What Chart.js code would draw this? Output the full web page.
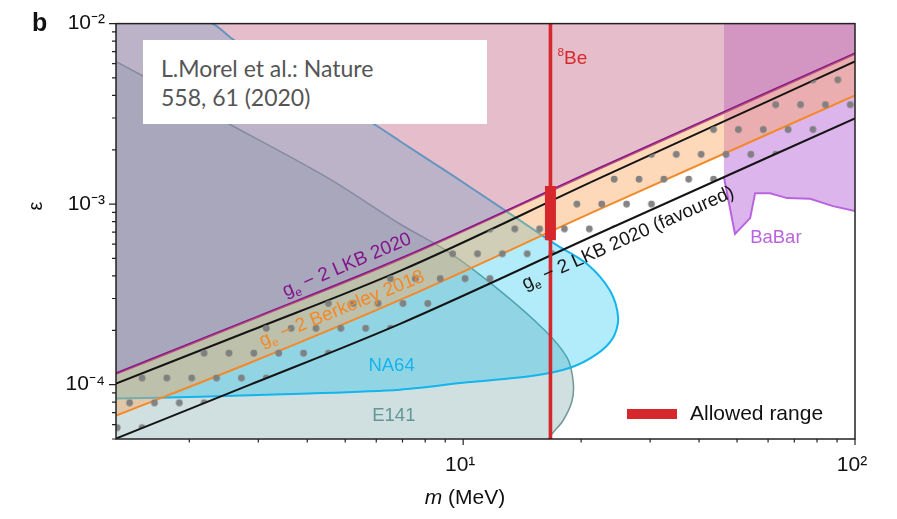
<!DOCTYPE html>
<html>
<head>
<meta charset="utf-8">
<script src="https://cdn.jsdelivr.net/npm/chart.js@4.4.1/dist/chart.umd.min.js"></script>
<style>
  html, body { margin: 0; padding: 0; background: #fff; overflow: hidden; }
  #wrap { position: relative; width: 897px; height: 519px; }
  #note {
    position: absolute; left: 143px; top: 40px; width: 344px; height: 84px;
    background: #fff; box-sizing: border-box; padding: 14px 0 0 18px;
    font-family: Lato, "Open Sans", sans-serif; font-size: 23px; line-height: 29px; color: #555;
  }
</style>
</head>
<body>
<div id="wrap">
  <canvas id="c" width="897" height="519"></canvas>
  <div id="note">L.Morel et al.: Nature<br>558, 61 (2020)</div>
</div>
<script>
// ---- axis ranges and ticks ----
const massRange = [1.3, 100];          // m (MeV)
const epsRange = [5e-5, 1e-2];         // kinetic mixing ε
const massTicks = [2, 3, 4, 5, 6, 7, 8, 9, 10, 20, 30, 40, 50, 60, 70, 80, 90, 100];
const epsTicks = [5e-5, 6e-5, 7e-5, 8e-5, 9e-5,
  1e-4, 2e-4, 3e-4, 4e-4, 5e-4, 6e-4, 7e-4, 8e-4, 9e-4,
  1e-3, 2e-3, 3e-3, 4e-3, 5e-3, 6e-3, 7e-3, 8e-3, 9e-3, 1e-2];
const massTickLabels = { 10: '10¹', 100: '10²' };
const epsTickLabels = { '0.01': '10⁻²', '0.001': '10⁻³', '0.0001': '10⁻⁴' };

// ---- g_e − 2 bounds ----
const g2Mass = [1.3, 2.86, 6.9, 22.3, 100];
const lkb2020Limit = [1.151e-4, 2.286e-4, 4.966e-4, 1.581e-3, 6.82e-3];
const lkb2020FavHigh = [1.013e-4, 1.988e-4, 4.266e-4, 1.392e-3, 6.166e-3];
const lkb2020FavLow = [5.03e-5, 1.0e-4, 2.173e-4, 6.917e-4, 2.987e-3];
const berkeley2018 = [6.74e-5, 1.323e-4, 2.948e-4, 9.385e-4, 4.0e-3];

// ---- beam-dump / collider exclusions (closed contours) ----
const na64Mass = [1.0, 2.29, 2.59, 3.84, 6.04, 6.90, 9.27, 12.43, 17.17, 20.72, 23.71, 24.86,
  24.13, 21.97, 18.75, 15.09, 10.24, 6.90, 3.84, 2.13, 1.30, 1.0];
const na64Eps = [2e-2, 1.0e-2, 8.16e-3, 4.88e-3, 2.70e-3, 2.23e-3, 1.47e-3, 9.63e-4, 6.01e-4, 4.66e-4, 3.31e-4, 2.34e-4,
  1.82e-4, 1.48e-4, 1.24e-4, 1.12e-4, 1.03e-4, 9.38e-5, 8.91e-5, 8.58e-5, 8.37e-5, 8.3e-5];

const e141Mass = [1.0, 1.30, 1.53, 2.59, 3.41, 4.66, 6.90, 9.27, 12.43, 16.19, 18.42, 19.08, 18.97, 17.99, 16.47, 16.0, 1.0];
const e141Eps = [8e-3, 6.16e-3, 5.09e-3, 2.70e-3, 1.96e-3, 1.34e-3, 7.76e-4, 5.36e-4, 3.31e-4, 1.99e-4, 1.41e-4, 1.05e-4,
  8.17e-5, 6.33e-5, 4.91e-5, 3e-5, 3e-5];

const babarMass = [46.3, 49.4, 54.0, 55.6, 60.7, 67.1, 76.8, 87.9, 100];
const babarEps = [1.41e-3, 6.83e-4, 8.37e-4, 1.15e-3, 1.15e-3, 1.08e-3, 1.07e-3, 9.75e-4, 9.15e-4];

// ---- 8Be anomaly (X17) ----
const x17Mass = 16.7;
const x17Allowed = [6.3e-4, 1.26e-3];

// ---- styling ----
const FONT = '"Liberation Sans", Arial, Helvetica, sans-serif';
const C = {
  red: 'rgb(214,40,44)',
  black: '#151515',
  orange: 'rgb(243,137,40)',
  purple: 'rgb(132,20,140)',
  babar: 'rgb(185,100,222)',
  na64: 'rgb(20,180,236)',
  e141: 'rgb(112,152,152)'
};

const pts = (xs, ys) => xs.map((m, i) => ({ x: m, y: ys[i] }));

// dotted texture for the favoured band
function dotPattern(ctx) {
  const tile = document.createElement('canvas');
  tile.width = 25; tile.height = 50;
  const t = tile.getContext('2d');
  t.fillStyle = 'rgba(125,125,125,0.95)';
  [[6.25, 6.25], [18.75, 31.25]].forEach(([px, py]) => {
    t.beginPath(); t.arc(px, py, 3.4, 0, Math.PI * 2); t.fill();
  });
  const p = ctx.createPattern(tile, 'repeat');
  const s = 24.85 / 25;
  p.setTransform(new DOMMatrix([s, 0, 0, s, 142 - s * 6.25, 378 - s * 6.25]));
  return p;
}

// rich text: parts may be subscript, superscript or italic
function drawParts(ctx, parts, x, y, size, color, angle, align, bold) {
  ctx.save();
  ctx.translate(x, y);
  ctx.rotate(-angle * Math.PI / 180);
  ctx.fillStyle = color;
  ctx.textBaseline = 'alphabetic';
  ctx.textAlign = 'left';
  const fontOf = p => {
    const s = (p.sub || p.sup) ? size * 0.62 : size;
    return `${p.italic ? 'italic ' : ''}${bold ? 'bold ' : ''}${s}px ${FONT}`;
  };
  let total = 0;
  parts.forEach(p => { ctx.font = fontOf(p); total += ctx.measureText(p.t).width; });
  let cx = align === 'center' ? -total / 2 : 0;
  parts.forEach(p => {
    ctx.font = fontOf(p);
    const dy = p.sub ? size * 0.24 : p.sup ? -size * 0.42 : 0;
    ctx.fillText(p.t, cx, dy);
    cx += ctx.measureText(p.t).width;
  });
  ctx.restore();
}

const ge = [{ t: 'g' }, { t: 'e', sub: true }];
const curveLabels = [
  { parts: [...ge, { t: ' − 2 LKB 2020' }], m: 3.52, eps: 3.06e-4, angle: 23, color: C.purple, size: 19 },
  { parts: [...ge, { t: ' − 2 Berkeley 2018' }], m: 3.07, eps: 1.62e-4, angle: 22, color: C.orange, size: 19 },
  { parts: [...ge, { t: ' − 2 LKB 2020 (favoured)' }], m: 14.4, eps: 3.35e-4, angle: 24, color: C.black, size: 19 },
  { parts: [{ t: 'NA64' }], m: 5.73, eps: 1.19e-4, angle: 0, color: C.na64, size: 18.5 },
  { parts: [{ t: 'E141' }], m: 5.86, eps: 6.32e-5, angle: 0, color: 'rgb(100,150,150)', size: 18.5 },
  { parts: [{ t: 'BaBar' }], m: 54.0, eps: 6.09e-4, angle: 0, color: C.babar, size: 18.5 },
  { parts: [{ t: '8', sup: true }, { t: 'Be' }], m: 17.4, eps: 6.0e-3, angle: 0, color: C.red, size: 19 }
];

const isDecade = v => Math.abs(Math.log10(v) - Math.round(Math.log10(v))) < 1e-6;

const decorations = {
  id: 'decorations',
  afterDatasetsDraw(chart) {
    const { ctx, chartArea: a, scales: { x, y } } = chart;
    ctx.save();
    // plot frame
    ctx.strokeStyle = '#222';
    ctx.lineWidth = 1.5;
    ctx.strokeRect(a.left, a.top, a.right - a.left, a.bottom - a.top);
    // tick marks
    ctx.lineWidth = 1.2;
    ctx.beginPath();
    y.ticks.forEach(t => {
      const py = y.getPixelForValue(t.value);
      const len = isDecade(t.value) ? 7 : 4;
      ctx.moveTo(a.left - len, py); ctx.lineTo(a.left, py);
    });
    x.ticks.forEach(t => {
      const px = x.getPixelForValue(t.value);
      const len = isDecade(t.value) ? 6 : 3.5;
      ctx.moveTo(px, a.bottom); ctx.lineTo(px, a.bottom + len);
    });
    ctx.stroke();
    ctx.restore();

    // curve and region labels
    curveLabels.forEach(l => {
      drawParts(ctx, l.parts, x.getPixelForValue(l.m), y.getPixelForValue(l.eps), l.size, l.color, l.angle, 'left');
    });

    // legend entry
    ctx.save();
    ctx.fillStyle = C.red;
    ctx.fillRect(a.right - 228, a.bottom - 30, 50, 10);
    ctx.restore();
    drawParts(ctx, [{ t: 'Allowed range' }], a.right - 165, a.bottom - 19, 21, '#111', 0, 'left');

    // axis titles and panel letter
    drawParts(ctx, [{ t: 'm', italic: true }, { t: ' (MeV)' }], a.left + 349, 504, 21, '#111', 0, 'center');
    drawParts(ctx, [{ t: 'ε' }], 42, 206, 20, '#111', 90, 'center');
    drawParts(ctx, [{ t: 'b' }], 32, 31, 25, '#111', 0, 'left', true);
  }
};

const canvas = document.getElementById('c');
const ctx = canvas.getContext('2d');

new Chart(ctx, {
  type: 'line',
  data: {
    datasets: [
      { label: 'Allowed range', data: pts([x17Mass, x17Mass], x17Allowed),
        borderColor: C.red, borderWidth: 11, borderCapStyle: 'butt', fill: false },
      { label: '8Be', data: pts([x17Mass, x17Mass], epsRange),
        borderColor: C.red, borderWidth: 3.6, borderCapStyle: 'butt', fill: false },
      { label: 'LKB 2020 favoured (lower)', data: pts(g2Mass, lkb2020FavLow),
        borderColor: C.black, borderWidth: 2, fill: 3, backgroundColor: dotPattern(ctx),
        cubicInterpolationMode: 'monotone' },
      { label: 'LKB 2020 favoured (upper)', data: pts(g2Mass, lkb2020FavHigh),
        borderColor: C.black, borderWidth: 2, fill: false, cubicInterpolationMode: 'monotone' },
      { label: 'Berkeley 2018', data: pts(g2Mass, berkeley2018),
        borderColor: C.orange, borderWidth: 2, fill: 5, backgroundColor: 'rgba(250,165,90,0.42)',
        cubicInterpolationMode: 'monotone' },
      { label: 'LKB 2020', data: pts(g2Mass, lkb2020Limit),
        borderColor: C.purple, borderWidth: 2.6, fill: 'end', backgroundColor: 'rgba(200,110,140,0.45)',
        cubicInterpolationMode: 'monotone' },
      { label: 'BaBar', data: pts(babarMass, babarEps),
        borderColor: C.babar, borderWidth: 2, fill: 'end', backgroundColor: 'rgba(180,90,215,0.45)' },
      { label: 'NA64', data: pts(na64Mass, na64Eps),
        borderColor: C.na64, borderWidth: 2, fill: 'shape', backgroundColor: 'rgba(0,190,240,0.3)', tension: 0.3 },
      { label: 'E141', data: pts(e141Mass, e141Eps),
        borderColor: C.e141, borderWidth: 1.5, fill: 'shape', backgroundColor: 'rgba(120,165,165,0.35)', tension: 0.3 }
    ]
  },
  options: {
    responsive: false,
    animation: false,
    events: [],
    layout: { padding: { top: 22, right: 42, left: 0, bottom: 0 } },
    elements: { point: { radius: 0 }, line: { tension: 0 } },
    plugins: { legend: { display: false }, tooltip: { enabled: false }, filler: { propagate: false } },
    scales: {
      x: {
        type: 'logarithmic', min: massRange[0], max: massRange[1],
        afterBuildTicks: s => { s.ticks = massTicks.map(v => ({ value: v })); },
        afterFit: s => { s.height = 80; },
        grid: { display: false, drawTicks: false },
        border: { display: false },
        ticks: {
          autoSkip: false, maxRotation: 0, padding: 14, labelOffset: -3, color: '#111',
          font: { family: FONT, size: 21 },
          callback: v => massTickLabels[v] || ''
        }
      },
      y: {
        type: 'logarithmic', min: epsRange[0], max: epsRange[1],
        afterBuildTicks: s => { s.ticks = epsTicks.map(v => ({ value: v })); },
        afterFit: s => { s.width = 116; },
        grid: { display: false, drawTicks: false },
        border: { display: false },
        ticks: {
          autoSkip: false, padding: 11, color: '#111',
          font: { family: FONT, size: 21 },
          callback: v => epsTickLabels[String(v)] || ''
        }
      }
    }
  },
  plugins: [decorations]
});
</script>
</body>
</html>
